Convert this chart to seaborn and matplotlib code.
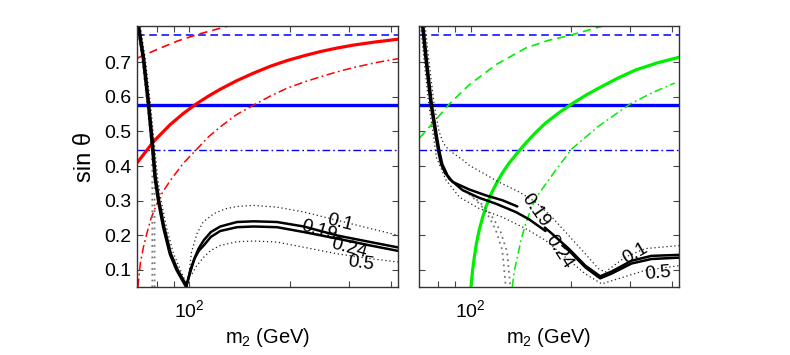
import numpy as np
import seaborn as sns
import matplotlib
matplotlib.use("Agg")
import matplotlib.pyplot as plt
from matplotlib.ticker import FixedLocator, FixedFormatter, NullFormatter

sns.set_theme(style="white")
plt.rcParams['font.family'] = ['Liberation Sans', 'DejaVu Sans']
plt.rcParams['mathtext.default'] = 'regular'
plt.rcParams['text.color'] = 'black'
plt.rcParams['axes.labelcolor'] = 'black'
plt.rcParams['xtick.color'] = 'black'
plt.rcParams['ytick.color'] = 'black'

# horizontal reference values of sin(theta)
s_dashed = 0.779
s_solid = 0.577
s_dashdot = 0.447

# ---- left panel -------------------------------------------------------
red_solid_m = [70.0, 78.3, 87.8, 96.0, 104.7, 114.0, 123.7, 138.0, 155.7, 175.0, 195.7, 220.0, 246.0, 275.0, 309.6, 360.0, 421.7]
red_solid_s = [0.410, 0.471, 0.520, 0.552, 0.579, 0.602, 0.622, 0.646, 0.669, 0.689, 0.705, 0.719, 0.731, 0.741, 0.750, 0.759, 0.767]

red_dash_m = [70.0, 80.1, 91.9, 105.4, 129.6]
red_dash_s = [0.712, 0.737, 0.761, 0.780, 0.804]

red_dd_m = [70.3, 71.5, 73.0, 74.7, 77.0, 80.1, 83.5, 87.8, 96.0, 105.4, 114.0, 123.7, 138.0, 157.4, 175.0, 195.7, 220.0, 246.0, 275.0, 309.6, 360.0, 421.7]
red_dd_s = [0.050, 0.120, 0.165, 0.204, 0.250, 0.291, 0.326, 0.358, 0.408, 0.449, 0.484, 0.513, 0.548, 0.579, 0.603, 0.625, 0.643, 0.658, 0.672, 0.685, 0.699, 0.711]

left_steep_m = [70.6, 73.1, 75.6, 77.9, 79.1, 81.0, 83.9, 87.8, 91.9, 95.0, 98.0]
left_steep_s = [0.804, 0.708, 0.579, 0.447, 0.368, 0.300, 0.223, 0.146, 0.100, 0.075, 0.052]

left_steep_dot_m = [71.5, 74.0, 76.6, 79.0, 80.4, 82.4, 85.5, 89.5, 94.0, 98.5]
left_steep_dot_s = [0.804, 0.708, 0.579, 0.447, 0.368, 0.300, 0.223, 0.150, 0.100, 0.055]

left_gray_a_m = [70.0, 72.4, 75.0, 77.3, 77.6, 77.6]
left_gray_a_s = [0.804, 0.708, 0.579, 0.447, 0.380, 0.050]
left_gray_b_m = [70.2, 72.8, 75.3, 77.8, 78.8, 78.8]
left_gray_b_s = [0.804, 0.708, 0.579, 0.447, 0.380, 0.050]

l019_m = [98.0, 100.5, 103.1, 106.5, 110.4, 116.0, 123.7, 138.8, 155.7, 182.7, 219.5, 276.0, 347.0, 421.7]
l019_s = [0.052, 0.090, 0.127, 0.160, 0.185, 0.209, 0.225, 0.238, 0.240, 0.238, 0.225, 0.199, 0.180, 0.164]

l024_m = [98.0, 100.7, 104.0, 107.0, 110.4, 116.0, 123.7, 138.8, 155.7, 182.7, 219.5, 276.0, 347.0, 421.7]
l024_s = [0.052, 0.098, 0.135, 0.156, 0.170, 0.195, 0.212, 0.223, 0.225, 0.223, 0.209, 0.190, 0.170, 0.154]

l01_m = [99.6, 101.5, 105.4, 110.0, 118.3, 128.0, 138.8, 155.7, 182.7, 219.5, 276.0, 347.0, 421.7]
l01_s = [0.079, 0.150, 0.204, 0.238, 0.262, 0.276, 0.283, 0.286, 0.281, 0.267, 0.243, 0.219, 0.199]

l05_m = [101.9, 105.0, 110.4, 116.0, 123.7, 138.8, 155.7, 182.7, 219.5, 276.0, 347.0, 421.7]
l05_s = [0.088, 0.110, 0.136, 0.156, 0.170, 0.181, 0.183, 0.180, 0.165, 0.146, 0.132, 0.122]

left_labels = ["0.1", "0.19", "0.24", "0.5"]
left_label_m = [282.0, 243.0, 299.0, 324.0]
left_label_s = [0.236, 0.214, 0.163, 0.118]
left_label_rot = [-14, -16, -15, -8]

# ---- right panel ------------------------------------------------------
green_solid_m = [100.3, 101.3, 102.6, 104.2, 106.1, 108.5, 111.1, 115.0, 119.0, 124.5, 130.2, 142.7, 155.0, 167.4, 183.0, 200.8, 222.0, 246.5, 275.0, 309.6, 360.0, 421.0]
green_solid_s = [0.050, 0.095, 0.136, 0.178, 0.214, 0.250, 0.281, 0.318, 0.347, 0.380, 0.408, 0.455, 0.493, 0.524, 0.553, 0.580, 0.606, 0.630, 0.654, 0.677, 0.698, 0.715]

green_dash_m = [70.4, 77.1, 86.4, 99.1, 119.0, 146.0, 170.0, 196.3, 246.5]
green_dash_s = [0.481, 0.524, 0.579, 0.635, 0.693, 0.741, 0.763, 0.777, 0.804]

green_dd_m = [133.2, 135.0, 137.9, 141.5, 146.0, 152.0, 159.9, 179.2, 200.8, 240.9, 299.2, 346.8, 407.0]
green_dd_s = [0.050, 0.095, 0.136, 0.186, 0.233, 0.280, 0.320, 0.387, 0.450, 0.515, 0.579, 0.611, 0.640]

right_steep_m = [72.0, 73.7, 76.3, 79.0, 80.5, 82.0, 84.5]
right_steep_s = [0.804, 0.708, 0.579, 0.486, 0.440, 0.405, 0.378]

r019a_m = [84.5, 88.4, 99.1, 111.1, 124.4, 137.9]
r019a_s = [0.378, 0.354, 0.332, 0.315, 0.301, 0.283]
r019b_m = [166.6, 175.1, 196.3, 220.0, 243.8, 263.9, 302.5, 346.8, 421.0]
r019b_s = [0.222, 0.204, 0.161, 0.112, 0.081, 0.095, 0.126, 0.140, 0.143]

r024a_m = [84.5, 86.4, 94.7, 106.1, 119.0, 136.4, 149.4, 167.4]
r024a_s = [0.378, 0.363, 0.330, 0.308, 0.291, 0.267, 0.246, 0.212]
r024b_m = [188.0, 196.3, 220.0, 243.8, 263.9, 302.5, 346.8, 421.0]
r024b_s = [0.170, 0.156, 0.107, 0.075, 0.089, 0.118, 0.131, 0.135]

r01_m = [73.2, 75.0, 77.8, 80.5, 83.0, 86.4, 94.7, 99.1, 111.1, 119.0, 139.5, 156.3, 175.1, 196.3, 220.0, 240.9, 252.3, 289.2, 331.6, 421.0]
r01_s = [0.804, 0.708, 0.579, 0.500, 0.465, 0.445, 0.418, 0.402, 0.375, 0.358, 0.325, 0.296, 0.252, 0.199, 0.146, 0.103, 0.093, 0.136, 0.161, 0.170]

r05_m = [71.0, 72.6, 75.0, 77.5, 79.0, 84.5, 92.6, 106.1, 124.4, 146.0, 167.4, 191.9, 220.0, 246.5, 276.3, 331.6, 421.0]
r05_s = [0.804, 0.708, 0.579, 0.486, 0.426, 0.359, 0.310, 0.277, 0.252, 0.219, 0.185, 0.136, 0.088, 0.059, 0.074, 0.098, 0.112]

right_gray_a_m = [96.0, 104.0, 108.5, 114.0, 119.0, 124.4, 127.4]
right_gray_a_s = [0.330, 0.300, 0.281, 0.250, 0.214, 0.156, 0.050]
right_gray_b_m = [98.0, 106.5, 111.5, 117.5, 123.0, 128.5, 131.5]
right_gray_b_s = [0.325, 0.295, 0.276, 0.245, 0.209, 0.152, 0.050]

right_labels = ["0.19", "0.24", "0.1", "0.5"]
right_label_m = [156.3, 183.5, 309.6, 363.0]
right_label_s = [0.272, 0.151, 0.146, 0.088]
right_label_rot = [-55, -57, 30, 5]

xlim = (70, 420)
ylim = (0.05, 0.805)
yticks = [0.1, 0.2, 0.3, 0.4, 0.5, 0.6, 0.7]
xminor = [80, 90, 200, 300, 400]

RED, BLUE, GREEN = "#ff0000", "#0000ff", "#00ee00"
DASH = (0, (5, 3))
DASHDOT = (0, (5.5, 2.2, 1.2, 2.2))
DOT = (0, (1, 2.2))


def draw(ax, m, s, color, lw, ls="-"):
    sns.lineplot(x=m, y=s, ax=ax, color=color, lw=lw, linestyle=ls,
                 sort=False, estimator=None, legend=False)


def style_axes(ax, show_ylabels):
    ax.set_xscale("log")
    ax.set_xlim(*xlim)
    ax.set_ylim(*ylim)
    ax.xaxis.set_major_locator(FixedLocator([100]))
    ax.xaxis.set_major_formatter(FixedFormatter(["$10^2$"]))
    ax.xaxis.set_minor_locator(FixedLocator(xminor))
    ax.xaxis.set_minor_formatter(NullFormatter())
    ax.set_yticks(yticks)
    if show_ylabels:
        ax.set_yticklabels([f"{v:.1f}" for v in yticks])
        ax.set_ylabel("sin θ", fontsize=17, labelpad=6)
    else:
        ax.set_yticklabels([])
        ax.set_ylabel("")
    ax.tick_params(which="both", direction="in", top=True, right=True,
                   bottom=True, left=True, color="#444444", width=0.8,
                   labelsize=14, pad=4)
    ax.tick_params(axis="x", which="both", pad=9)
    ax.tick_params(which="major", length=4)
    ax.tick_params(which="minor", length=4)
    ax.set_xlabel("m$_2$ (GeV)", fontsize=14.5, labelpad=3)
    for sp in ax.spines.values():
        sp.set_color("#333333")
        sp.set_linewidth(1.0)


def hlines(ax):
    ax.axhline(s_dashed, color=BLUE, lw=1.1, linestyle=DASH)
    ax.axhline(s_solid, color=BLUE, lw=2.4)
    ax.axhline(s_dashdot, color=BLUE, lw=1.0, linestyle=DASHDOT)


fig = plt.figure(figsize=(7.9, 3.55), dpi=100)
axL = fig.add_axes([137.3 / 790, 1 - 287 / 355, 261 / 790, 261 / 355])
axR = fig.add_axes([418.7 / 790, 1 - 287 / 355, 260.6 / 790, 261 / 355])

# left panel
hlines(axL)
draw(axL, red_dash_m, red_dash_s, RED, 1.2, DASH)
draw(axL, red_dd_m, red_dd_s, RED, 1.1, DASHDOT)
draw(axL, red_solid_m, red_solid_s, RED, 2.3)
draw(axL, left_gray_a_m, left_gray_a_s, "#777777", 1.3, DOT)
draw(axL, left_gray_b_m, left_gray_b_s, "#777777", 1.3, DOT)
draw(axL, left_steep_dot_m, left_steep_dot_s, "#222222", 0.9, DOT)
draw(axL, l01_m, l01_s, "#222222", 0.9, DOT)
draw(axL, l05_m, l05_s, "#222222", 0.9, DOT)
draw(axL, left_steep_m, left_steep_s, "black", 2.6)
draw(axL, l019_m, l019_s, "black", 1.8)
draw(axL, l024_m, l024_s, "black", 1.8)
for t, m, s, r in zip(left_labels, left_label_m, left_label_s, left_label_rot):
    axL.text(m, s, t, fontsize=13.5, rotation=r, ha="center", va="center",
             rotation_mode="anchor", color="black")
style_axes(axL, True)

# right panel
hlines(axR)
draw(axR, green_dash_m, green_dash_s, GREEN, 1.2, DASH)
draw(axR, green_dd_m, green_dd_s, GREEN, 1.1, DASHDOT)
draw(axR, green_solid_m, green_solid_s, GREEN, 2.3)
draw(axR, right_gray_a_m, right_gray_a_s, "#777777", 1.3, DOT)
draw(axR, right_gray_b_m, right_gray_b_s, "#777777", 1.3, DOT)
draw(axR, r01_m, r01_s, "#222222", 0.9, DOT)
draw(axR, r05_m, r05_s, "#222222", 0.9, DOT)
draw(axR, right_steep_m, right_steep_s, "black", 2.6)
draw(axR, r019a_m, r019a_s, "black", 1.8)
draw(axR, r019b_m, r019b_s, "black", 1.8)
draw(axR, r024a_m, r024a_s, "black", 1.8)
draw(axR, r024b_m, r024b_s, "black", 1.8)
for t, m, s, r in zip(right_labels, right_label_m, right_label_s, right_label_rot):
    axR.text(m, s, t, fontsize=13.5, rotation=r, ha="center", va="center",
             rotation_mode="anchor", color="black")
style_axes(axR, False)

fig.savefig("out.png", dpi=100)
